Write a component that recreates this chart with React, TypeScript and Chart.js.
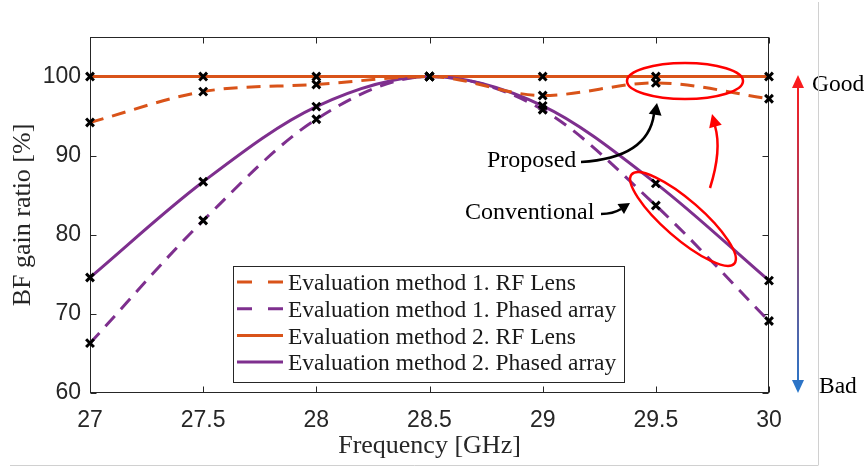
import React, { useEffect, useRef } from 'react';
import { Chart, registerables } from 'chart.js';

Chart.register(...registerables);

// ---- data ----
const FREQUENCIES = [27, 27.5, 28, 28.5, 29, 29.5, 30];
const M1_RF_LENS = [94.2, 98.1, 99.0, 100, 97.6, 99.2, 97.2];
const M1_PHASED = [66.3, 81.8, 94.6, 100, 95.8, 83.7, 69.1];
const M2_RF_LENS = [100, 100, 100, 100, 100, 100, 100];
const M2_PHASED = [74.6, 86.7, 96.2, 100, 96.3, 86.5, 74.2];
const SERIES_LABELS = [
  'Evaluation method 1. RF Lens',
  'Evaluation method 1. Phased array',
  'Evaluation method 2. RF Lens',
  'Evaluation method 2. Phased array',
];
const X_TICKS = [27, 27.5, 28, 28.5, 29, 29.5, 30];
const Y_TICKS = [60, 70, 80, 90, 100];
const X_TITLE = 'Frequency [GHz]';
const Y_TITLE = 'BF gain ratio [%]';
const ANNOT_PROPOSED = 'Proposed';
const ANNOT_CONVENTIONAL = 'Conventional';
const LABEL_GOOD = 'Good';
const LABEL_BAD = 'Bad';

const ORANGE = '#D95319';
const PURPLE = '#7E2F8E';
const AXIS_COLOR = '#262626';
const SANS = '"Liberation Sans", Arial, Helvetica, sans-serif';
const SERIF = '"Liberation Serif", "Times New Roman", serif';

const toPoints = (vals: number[]) => FREQUENCIES.map((f, i) => ({ x: f, y: vals[i] }));

function arrowHead(ctx: CanvasRenderingContext2D, tipX: number, tipY: number, fromX: number, fromY: number, len: number, half: number) {
  const ang = Math.atan2(tipY - fromY, tipX - fromX);
  const bx = tipX - Math.cos(ang) * len;
  const by = tipY - Math.sin(ang) * len;
  ctx.beginPath();
  ctx.moveTo(tipX, tipY);
  ctx.lineTo(bx + Math.cos(ang + Math.PI / 2) * half, by + Math.sin(ang + Math.PI / 2) * half);
  ctx.lineTo(bx - Math.cos(ang + Math.PI / 2) * half, by - Math.sin(ang + Math.PI / 2) * half);
  ctx.closePath();
  ctx.fill();
}

const framePlugin = {
  id: 'frame',
  beforeDatasetsDraw(chart: any) {
    const { ctx, chartArea: a, scales } = chart;
    ctx.save();
    ctx.strokeStyle = AXIS_COLOR;
    ctx.lineWidth = 1;
    const L = Math.round(a.left) + 0.5, R = Math.round(a.right) - 0.5;
    const T = Math.round(a.top) + 0.5, B = Math.round(a.bottom) - 0.5;
    ctx.strokeRect(L, T, R - L, B - T);
    ctx.beginPath();
    X_TICKS.forEach((v) => {
      const px = Math.round(scales.x.getPixelForValue(v)) + 0.5;
      ctx.moveTo(px, B); ctx.lineTo(px, B - 6);
      ctx.moveTo(px, T); ctx.lineTo(px, T + 6);
    });
    Y_TICKS.forEach((v) => {
      const py = Math.round(scales.y.getPixelForValue(v)) + 0.5;
      ctx.moveTo(L, py); ctx.lineTo(L + 6, py);
      ctx.moveTo(R, py); ctx.lineTo(R - 6, py);
    });
    ctx.stroke();
    ctx.restore();
  },
};

const overlayPlugin = {
  id: 'overlay',
  afterDraw(chart: any) {
    const { ctx } = chart;
    ctx.save();

    // legend box
    const lx0 = 233, ly0 = 266, lx1 = 624, ly1 = 382;
    ctx.fillStyle = '#ffffff';
    ctx.fillRect(lx0, ly0, lx1 - lx0, ly1 - ly0);
    ctx.strokeStyle = AXIS_COLOR;
    ctx.lineWidth = 1;
    ctx.strokeRect(lx0 + 0.5, ly0 + 0.5, lx1 - lx0, ly1 - ly0);
    ctx.font = `23.5px ${SERIF}`;
    ctx.textBaseline = 'middle';
    ctx.textAlign = 'left';
    chart.data.datasets.forEach((ds: any, i: number) => {
      const cy = 282 + i * 26.7;
      ctx.strokeStyle = ds.borderColor;
      ctx.lineWidth = 3;
      ctx.setLineDash(ds.borderDash && ds.borderDash.length ? [15, 16] : []);
      ctx.beginPath();
      ctx.moveTo(237, cy);
      ctx.lineTo(283, cy);
      ctx.stroke();
      ctx.setLineDash([]);
      ctx.fillStyle = '#1a1a1a';
      ctx.fillText(ds.label, 288, cy + 2);
    });

    // red ellipses
    ctx.strokeStyle = '#ff0000';
    ctx.lineWidth = 2.5;
    ctx.beginPath();
    ctx.ellipse(685, 81, 58, 18, 0, 0, Math.PI * 2);
    ctx.stroke();
    ctx.beginPath();
    ctx.ellipse(683, 219, 68, 19, (41 * Math.PI) / 180, 0, Math.PI * 2);
    ctx.stroke();

    // red curved arrow
    ctx.beginPath();
    ctx.moveTo(710, 188);
    ctx.quadraticCurveTo(722, 150, 715, 126);
    ctx.stroke();
    ctx.fillStyle = '#ff0000';
    arrowHead(ctx, 712, 114, 717, 132, 13, 6.5);

    // black arrows
    ctx.strokeStyle = '#000';
    ctx.fillStyle = '#000';
    ctx.lineWidth = 2.5;
    ctx.beginPath();
    ctx.moveTo(581, 162);
    ctx.quadraticCurveTo(648, 158, 654, 114);
    ctx.stroke();
    arrowHead(ctx, 657, 103, 654, 122, 12, 6.5);

    ctx.beginPath();
    ctx.moveTo(601, 214);
    ctx.quadraticCurveTo(613, 214, 621, 209);
    ctx.stroke();
    arrowHead(ctx, 630, 203, 616, 212, 11, 6);

    // annotation text
    ctx.font = `24px ${SERIF}`;
    ctx.fillStyle = '#000';
    ctx.textAlign = 'left';
    ctx.textBaseline = 'middle';
    ctx.fillText(ANNOT_PROPOSED, 487, 161);
    ctx.fillText(ANNOT_CONVENTIONAL, 465, 213);

    // gradient good/bad arrow
    const g = ctx.createLinearGradient(0, 76, 0, 393);
    g.addColorStop(0, '#ff1a1a');
    g.addColorStop(1, '#2677cc');
    ctx.strokeStyle = g;
    ctx.fillStyle = g;
    ctx.lineWidth = 2;
    ctx.beginPath();
    ctx.moveTo(798, 86);
    ctx.lineTo(798, 383);
    ctx.stroke();
    arrowHead(ctx, 798, 75, 798, 100, 13, 6);
    arrowHead(ctx, 798, 393, 798, 370, 13, 6);

    ctx.fillStyle = '#000';
    ctx.font = `23.5px ${SERIF}`;
    ctx.fillText(LABEL_GOOD, 812, 85);
    ctx.fillText(LABEL_BAD, 819, 387);

    // light frame lines
    ctx.strokeStyle = '#d0d0d0';
    ctx.lineWidth = 1;
    ctx.beginPath();
    ctx.moveTo(818.5, 2);
    ctx.lineTo(818.5, 465);
    ctx.moveTo(10, 465.5);
    ctx.lineTo(818.5, 465.5);
    ctx.stroke();

    ctx.restore();
  },
};

export default function App() {
  const canvasRef = useRef<HTMLCanvasElement | null>(null);

  useEffect(() => {
    if (!canvasRef.current) return;
    const common = {
      cubicInterpolationMode: 'monotone' as const,
      borderWidth: 3,
      pointStyle: 'crossRot' as const,
      pointRadius: 5.5,
      pointHoverRadius: 5.5,
      pointBorderWidth: 3,
      pointBorderColor: '#000',
      pointBackgroundColor: '#000',
      fill: false,
      clip: false as const,
    };
    const chart = new Chart(canvasRef.current, {
      type: 'line',
      data: {
        datasets: [
          { ...common, label: SERIES_LABELS[0], data: toPoints(M1_RF_LENS), borderColor: ORANGE, borderDash: [14, 9] },
          { ...common, label: SERIES_LABELS[1], data: toPoints(M1_PHASED), borderColor: PURPLE, borderDash: [14, 9] },
          { ...common, label: SERIES_LABELS[2], data: toPoints(M2_RF_LENS), borderColor: ORANGE, borderDash: [] },
          { ...common, label: SERIES_LABELS[3], data: toPoints(M2_PHASED), borderColor: PURPLE, borderDash: [] },
        ],
      },
      options: {
        animation: false,
        responsive: true,
        maintainAspectRatio: false,
        layout: { padding: { top: 37, right: 97, left: 0, bottom: 0 } },
        plugins: {
          legend: { display: false },
          tooltip: { enabled: false },
        },
        events: [],
        scales: {
          x: {
            type: 'linear',
            min: 27,
            max: 30,
            grid: { display: false, drawTicks: false },
            border: { display: false },
            ticks: {
              font: { family: SANS, size: 23 },
              color: AXIS_COLOR,
              padding: 14,
              maxRotation: 0,
              autoSkip: false,
              callback: (v: any) => String(Math.round(Number(v) * 10) / 10),
            },
            title: {
              display: true,
              text: X_TITLE,
              font: { family: SERIF, size: 26 },
              color: AXIS_COLOR,
              padding: { top: 0, bottom: 6 },
            },
            afterBuildTicks: (s: any) => {
              s.ticks = X_TICKS.map((value) => ({ value }));
            },
            afterFit: (s: any) => {
              s.height = 75;
            },
          },
          y: {
            type: 'linear',
            min: 60,
            max: 105,
            grid: { display: false, drawTicks: false },
            border: { display: false },
            ticks: {
              font: { family: SANS, size: 23 },
              color: AXIS_COLOR,
              padding: 9,
              autoSkip: false,
            },
            title: {
              display: true,
              text: Y_TITLE,
              font: { family: SERIF, size: 26 },
              color: AXIS_COLOR,
              padding: { top: 8, bottom: 0 },
            },
            afterBuildTicks: (s: any) => {
              s.ticks = Y_TICKS.map((value) => ({ value }));
            },
            afterFit: (s: any) => {
              s.width = 90;
            },
          },
        },
      },
      plugins: [framePlugin, overlayPlugin],
    });
    return () => chart.destroy();
  }, []);

  return (
    <div style={{ position: 'fixed', left: 0, top: 0, width: 866, height: 468, background: '#fff' }}>
      <canvas ref={canvasRef} />
    </div>
  );
}
